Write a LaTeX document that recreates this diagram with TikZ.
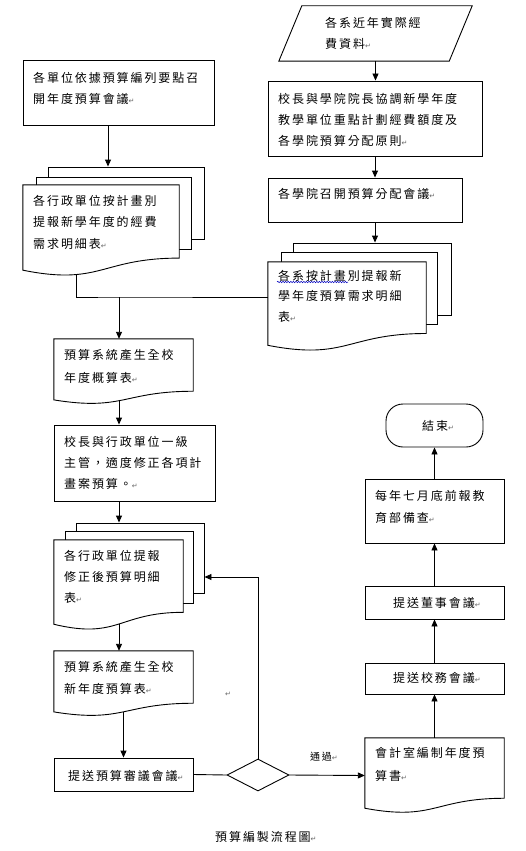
\documentclass[tikz,border=0pt]{standalone}
\usepackage{fontspec}
\newfontfamily\cjk[LetterSpace=16]{Noto Sans CJK TC}
\newfontfamily\symf{DejaVu Sans}
\newcommand\retmk{{\symf\fontsize{7}{7}\selectfont\color{black!60}↵}}
\usetikzlibrary{arrows.meta,calc,shapes.geometric,decorations.pathmorphing}
\tikzset{
 ln/.style={line width=0.9pt},
 arr/.style={ln,-{Triangle[length=7pt,width=6pt]}},
 box/.style={draw,ln,fill=white,rectangle,inner sep=0},
 ghost/.style={rectangle,inner sep=0,draw=none},
 txt/.style={anchor=north west,inner sep=0,align=left,font=\cjk\fontsize{12}{21.5}\selectfont},
}
\newcommand\docout[1]{\draw[ln,fill=white] (#1.north west) -- (#1.north east) -- ($(#1.north east)!0.802!(#1.south east)$) .. controls ($(#1.north)!0.802!(#1.south)$) and ($(#1.north)!1.107!(#1.south)$) .. ($(#1.north west)!0.934!(#1.south west)$) node[pos=0.5,coordinate](#1-b){} node[pos=0.7,coordinate](#1-c){} -- cycle;}
\begin{document}
\begin{tikzpicture}[x=1pt,y=-1pt]
\fill[white] (0,0) rectangle (525,851);
\useasboundingbox (0,0) rectangle (525,851);

% parallelogram
\node[ghost,minimum width=170,minimum height=55] (para) at (375.5,33.5) {};
\draw[ln,fill=white] ($(para.north west)+(11.5,0)$) -- ($(para.north east)+(11.5,0)$) -- ($(para.south east)+(-11.5,0)$) -- ($(para.south west)+(-11.5,0)$) -- cycle;
\node[txt] (parat) at (325,17) {各系近年實際經\\費資料\retmk};

% boxes top
\node[box,minimum width=191,minimum height=65] (b1) at (118.5,92.5) {};
\node[txt] (b1t) at (33,72) {各單位依據預算編列要點召\\開年度預算會議\retmk};
\node[box,minimum width=214,minimum height=75] (box2) at (375,118.5) {};
\node[txt,font=\cjk\fontsize{12}{21}\selectfont] (box2t) at (278,93) {校長與學院院長協調新學年度\\教學單位重點計劃經費額度及\\各學院預算分配原則\retmk};
\node[box,minimum width=194,minimum height=44] (box3) at (365,200) {};
\node[txt] (box3t) at (278,188) {各學院召開預算分配會議\retmk};

% left multidoc
\node[box,minimum width=156,minimum height=72] (lback) at (126,203) {};
\node[box,minimum width=155,minimum height=72] (lmid) at (113.5,213) {};
\node[ghost,minimum width=156,minimum height=91] (docL) at (101,230.5) {};
\docout{docL}
\node[txt] (docLt) at (33,195) {各行政單位按計畫別\\提報新學年度的經費\\需求明細表\retmk};

% right multidoc
\node[box,minimum width=158,minimum height=72] (rback) at (372,279) {};
\node[box,minimum width=156,minimum height=72] (rmid) at (359,288) {};
\node[ghost,minimum width=158,minimum height=89] (docR) at (347,306.5) {};
\docout{docR}
\node[txt,font=\cjk\fontsize{12}{20.5}\selectfont] (docRt) at (278,270) {各系按計畫別提報新\\學年度預算需求明細\\表\retmk};
\draw[blue!75!black,line width=0.5pt,decorate,decoration={snake,amplitude=0.7pt,segment length=2.6pt}] (277,282) -- (348,282);

% left column
\node[ghost,minimum width=139,minimum height=65] (doc4) at (123.5,371.5) {};
\docout{doc4}
\node[txt,font=\cjk\fontsize{12}{23}\selectfont] (doc4t) at (64,349) {預算系統產生全校\\年度概算表\retmk};
\node[box,minimum width=161,minimum height=76] (box5) at (134.5,463) {};
\node[txt,font=\cjk\fontsize{12}{21}\selectfont] (box5t) at (64,436) {校長與行政單位一級\\主管，適度修正各項計\\畫案預算。\retmk};

\node[box,minimum width=128,minimum height=70] (mback) at (140,558) {};
\node[box,minimum width=128,minimum height=72] (mmid) at (129,567) {};
\node[ghost,minimum width=129,minimum height=90] (docM) at (118.5,585) {};
\docout{docM}
\node[txt,font=\cjk\fontsize{12}{21}\selectfont] (docMt) at (64,550) {各行政單位提報\\修正後預算明細\\表\retmk};

\node[ghost,minimum width=139,minimum height=65] (doc7) at (123.5,683.5) {};
\docout{doc7}
\node[txt,font=\cjk\fontsize{12}{22}\selectfont] (doc7t) at (64,661) {預算系統產生全校\\新年度預算表\retmk};

\node[box,minimum width=139,minimum height=33] (box8) at (123.5,774.5) {};
\node[txt] (box8t) at (68,770) {提送預算審議會議\retmk};

\node[diamond,draw,ln,inner sep=0,minimum width=62,minimum height=32] (dia) at (258,775) {};

% right column
\node[ghost,minimum width=139,minimum height=75] (docE) at (434.5,775.5) {};
\docout{docE}
\node[txt,font=\cjk\fontsize{12}{23}\selectfont] (docEt) at (375,747) {會計室編制年度預\\算書\retmk};
\node[box,minimum width=139,minimum height=31] (boxS) at (434.5,678.5) {};
\node[txt] (boxSt) at (393,672) {提送校務會議\retmk};
\node[box,minimum width=139,minimum height=33] (boxD) at (434.5,602.5) {};
\node[txt] (boxDt) at (393,597) {提送董事會議\retmk};
\node[box,minimum width=139,minimum height=64] (boxM) at (434.5,511) {};
\node[txt,font=\cjk\fontsize{12}{22}\selectfont] (boxMt) at (375,490) {每年七月底前報教\\育部備查\retmk};
\node[box,rounded corners=17pt,minimum width=97,minimum height=43] (endn) at (434.5,425.5) {};
\node[txt] (endt) at (422,420) {結束\retmk};

% connectors
\draw[arr] (para.south) -- (para.south |- box2.north);
\draw[arr] ([xshift=-10.5pt]b1.south) -- ([xshift=-10.5pt]b1.south |- lback.north);
\draw[arr] (box2.south) -- (box2.south |- box3.north);
\draw[arr] (box2.south |- box3.south) -- (box2.south |- rback.north);
\coordinate (jn) at (119,297);
\draw[ln] (docL-c) |- (jn) -- (jn -| docR.west);
\draw[arr] (jn) -- (jn |- doc4.north);
\draw[arr] (jn |- doc4-b) -- (jn |- box5.north);
\draw[arr] (jn |- box5.south) -- (jn |- mback.north);
\draw[arr] (jn |- docM-b) -- (jn |- doc7.north);
\draw[arr] (doc7-b) -- (doc7-b |- box8.north);
\draw[ln] (box8.east) -- (dia.west);
\draw[arr] (dia.east) -- (docE.west);
\coordinate (fb) at (258,577);
\draw[arr] (dia.north) -- (fb) -- (fb -| mback.east);
\draw[arr] (docE.north) -- (boxS.south);
\draw[arr] (boxS.north) -- (boxD.south);
\draw[arr] (boxD.north) -- (boxM.south);
\draw[arr] (boxM.north) -- (endn.south);

\node[txt,font=\cjk\fontsize{10}{10}\selectfont] (pass) at (310,752) {通過\retmk};
\node[inner sep=0] (stray) at (228,694) {\retmk};
\node[txt] (cap) at (215,831) {預算編製流程圖\retmk};
\end{tikzpicture}
\end{document}
